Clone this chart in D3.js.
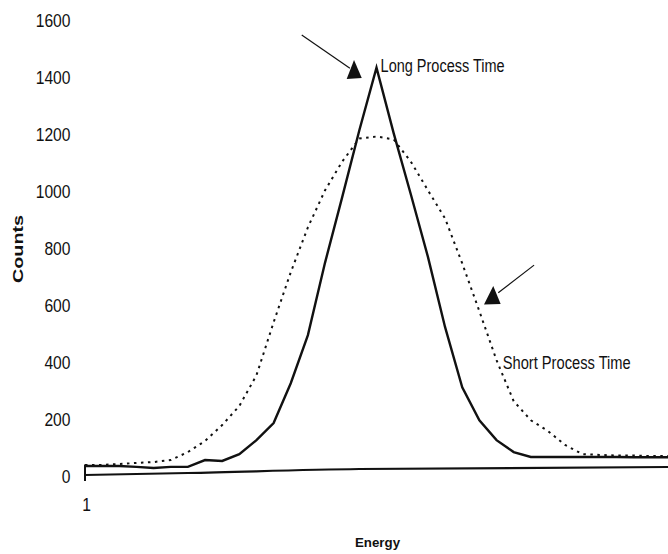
<!DOCTYPE html>
<html>
<head>
<meta charset="utf-8">
<script src="https://cdn.jsdelivr.net/npm/d3@7"></script>
<style>
  html, body { margin: 0; padding: 0; background: #fff; }
  svg { display: block; }
</style>
</head>
<body>
<svg id="chart" width="668" height="554"></svg>
<script>
// ---- data ----
const channels = d3.range(1, 36); // energy channels 1..35
const longProcess = [35, 35, 35, 32, 28, 32, 32, 56, 53, 77, 126, 186, 326, 495, 750, 980, 1215, 1435,
  1205, 990, 770, 523, 312, 196, 126, 84, 67, 67, 67, 67, 67, 67, 66, 66, 66];
const shortProcess = [39, 39, 42, 46, 49, 56, 84, 123, 179, 246, 354, 540, 716, 874, 1004, 1105, 1186, 1193,
  1183, 1105, 1004, 905, 747, 579, 407, 263, 196, 158, 109, 77, 74, 72, 72, 70, 70];
const baselineX = [1, 7, 17, 35];
const baselineY = [3.5, 10.5, 24.6, 31.6];
const yTicks = [0, 200, 400, 600, 800, 1000, 1200, 1400, 1600];
const xTicks = [1];
const labels = { y: "Counts", x: "Energy", long: "Long Process Time", short: "Short Process Time" };

const FONT = "'Liberation Sans', Arial, Helvetica, sans-serif";

// ---- scales ----
const x = d3.scaleLinear().domain([1, 35]).range([85, 668]);
const y = d3.scaleLinear().domain([0, 1600]).range([476, 20.7]);

const svg = d3.select("#chart");

// y axis (labels only), condensed glyphs
const yAxis = svg.append("g").attr("transform", "translate(85,0)")
  .call(d3.axisLeft(y).tickValues(yTicks).tickSize(0).tickPadding(14.5).tickFormat(d3.format("d")));
yAxis.select(".domain").remove();
yAxis.selectAll("text")
  .attr("font-family", FONT).attr("font-size", 19).attr("fill", "#111")
  .attr("textLength", d => String(d).length * 8.7).attr("lengthAdjust", "spacingAndGlyphs");

// x axis (label "1" only)
const xAxis = svg.append("g").attr("transform", "translate(0,497)")
  .call(d3.axisBottom(x).tickValues(xTicks).tickSize(0).tickPadding(0).tickFormat(d3.format("d")));
xAxis.select(".domain").remove();
xAxis.selectAll("text")
  .attr("font-family", FONT).attr("font-size", 19).attr("fill", "#111")
  .attr("textLength", 8.7).attr("lengthAdjust", "spacingAndGlyphs").attr("dx", 1);

// left stub
svg.append("line").attr("x1", x(1)).attr("x2", x(1)).attr("y1", y(40)).attr("y2", y(-18))
  .attr("stroke", "#111").attr("stroke-width", 2);

const line = d3.line().x(d => x(d[0])).y(d => y(d[1]));

// baseline
svg.append("path")
  .datum(baselineX.map((c, i) => [c, baselineY[i]]))
  .attr("d", d3.line().x(d => x(d[0])).y(d => y(d[1])).curve(d3.curveMonotoneX))
  .attr("fill", "none").attr("stroke", "#111").attr("stroke-width", 2.2);

// short process (dotted)
svg.append("path")
  .datum(channels.map((c, i) => [c, shortProcess[i]]))
  .attr("d", line)
  .attr("fill", "none").attr("stroke", "#111").attr("stroke-width", 2)
  .attr("stroke-dasharray", "2.5,4.5");

// long process (solid)
svg.append("path")
  .datum(channels.map((c, i) => [c, longProcess[i]]))
  .attr("d", line)
  .attr("fill", "none").attr("stroke", "#111").attr("stroke-width", 2.4)
  .attr("stroke-linejoin", "miter");

// annotations
const arrows = [
  { line: [[13.64, 1550], [16.45, 1433]], tri: [[16.69, 1462], [16.26, 1395], [17.14, 1399]] },
  { line: [[27.19, 741], [25.10, 644]], tri: [[24.81, 668], [24.27, 603], [25.24, 604]] }
];
arrows.forEach(a => {
  svg.append("line")
    .attr("x1", x(a.line[0][0])).attr("y1", y(a.line[0][1]))
    .attr("x2", x(a.line[1][0])).attr("y2", y(a.line[1][1]))
    .attr("stroke", "#111").attr("stroke-width", 1.2);
  svg.append("path")
    .attr("d", "M" + a.tri.map(p => x(p[0]) + "," + y(p[1])).join("L") + "Z")
    .attr("fill", "#111");
});

svg.append("text").attr("x", x(18.24)).attr("y", y(1421))
  .attr("font-family", FONT).attr("font-size", 17.5).attr("fill", "#111")
  .attr("textLength", 124).attr("lengthAdjust", "spacingAndGlyphs").text(labels.long);
svg.append("text").attr("x", x(25.36)).attr("y", y(375))
  .attr("font-family", FONT).attr("font-size", 17.5).attr("fill", "#111")
  .attr("textLength", 128).attr("lengthAdjust", "spacingAndGlyphs").text(labels.short);

// axis titles
svg.append("text").attr("transform", "translate(23,249) rotate(-90)")
  .attr("text-anchor", "middle").attr("font-family", FONT)
  .attr("font-weight", "bold").attr("font-size", 14).attr("fill", "#111")
  .attr("textLength", 68).attr("lengthAdjust", "spacingAndGlyphs").text(labels.y);
svg.append("text").attr("x", 377.5).attr("y", 546.7)
  .attr("text-anchor", "middle").attr("font-family", FONT)
  .attr("font-weight", "bold").attr("font-size", 13.3).attr("fill", "#111").text(labels.x);
</script>
</body>
</html>
